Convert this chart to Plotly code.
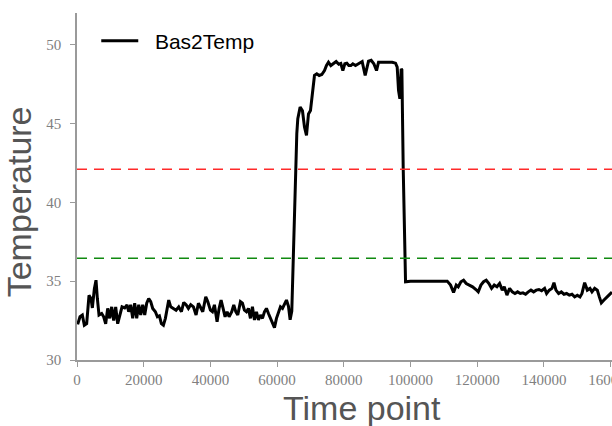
import plotly.graph_objects as go

# ---- data ----
time_points = [
    200, 900, 1600, 2200, 2900, 3600, 4200, 4600, 5200, 5700, 6100, 6600, 7400, 8000,
    8600, 9200, 9800, 10400, 11000, 11600, 12200, 12900, 13500, 14300, 15000, 15500,
    16100, 16700, 17300, 17900, 18500, 19100, 19700, 20300, 20900, 21500, 22100, 22700,
    23500, 24100, 24700, 25300, 25900, 26500, 27100, 27500, 28100, 28900, 29700, 30500,
    31300, 32000, 32700, 33400, 34100, 34900, 35700, 36400, 37100, 37700, 38600, 39200,
    40000, 40600, 41200, 42000, 42600, 43200, 43800, 44400, 45000, 45600, 46400, 47000,
    47600, 48200, 49000, 49600, 50200, 50800, 51400, 52000, 52600, 53200, 53800, 54400,
    55000, 55600, 56200, 56800, 57400, 58000, 58600, 59200, 59800, 60400, 61000, 61600,
    62200, 62800, 63400, 63900, 64400, 64900, 65400, 65900, 66200, 66900, 67600, 68200,
    68800, 69400, 70000, 70600, 71200, 71900, 72600, 73400, 74200, 74800, 75400, 76100,
    76900, 77700, 78500, 79100, 79700, 80300, 80900, 81500, 82100, 82700, 83500, 84300,
    84900, 85500, 86400, 86900, 87400, 88200, 89000, 89800, 90400, 91500, 92500, 93500,
    94500, 95500, 96000, 96400, 96800, 97200, 97400, 97800, 98200, 98500, 100000, 105000,
    111000, 112000, 112900, 113700, 114300, 115100, 115900, 116700, 117600, 118600,
    119600, 120300, 121100, 121900, 122700, 123500, 124300, 125100, 125900, 126700,
    127500, 128100, 128900, 129700, 130500, 131300, 132100, 132900, 133700, 134500,
    135300, 136100, 136900, 137700, 138500, 139300, 140200, 140800, 141600, 142400,
    143000, 143600, 144400, 145200, 146000, 146800, 147600, 148400, 149200, 150000,
    150800, 151400, 152200, 153000, 153800, 154400, 155200, 156000, 156600, 157200,
    158000, 158800, 159400, 160400,
]
bas2_temp = [
    32.26, 32.74, 32.85, 32.20, 32.30, 34.10, 33.90, 33.30, 34.50, 35.06, 33.90, 32.85, 32.95, 32.74,
    32.30, 33.27, 32.64, 33.37, 32.50, 33.37, 32.30, 32.85, 33.37, 33.30, 33.50, 33.06,
    33.50, 32.64, 33.60, 32.64, 33.50, 32.85, 33.50, 32.85, 33.60, 33.90, 33.70, 33.27,
    33.06, 32.74, 32.80, 32.30, 32.20, 32.64, 33.50, 33.80, 33.37, 33.27, 33.16, 33.37,
    33.06, 33.65, 33.50, 33.27, 33.50, 33.37, 32.85, 33.60, 33.27, 33.06, 34.00, 33.70,
    33.16, 33.06, 33.50, 32.43, 33.27, 33.80, 33.27, 32.74, 33.06, 32.74, 33.06, 33.50,
    33.06, 32.85, 33.70, 33.60, 33.16, 33.06, 33.27, 32.64, 33.37, 32.54, 33.06, 32.54,
    32.85, 32.64, 33.06, 33.27, 32.95, 32.64, 32.43, 32.05, 32.64, 33.06, 33.37, 33.27,
    33.50, 33.80, 33.40, 32.55, 33.10, 36.96, 41.18, 44.35, 45.30, 46.03, 45.80, 44.77,
    44.24, 45.60, 45.82, 47.09, 48.04, 48.14, 48.04, 48.10, 48.35, 48.67, 48.88, 48.67,
    48.82, 48.92, 48.75, 48.80, 48.35, 48.78, 48.82, 48.67, 48.67, 48.78, 48.67, 48.78,
    48.88, 48.92, 48.04, 48.57, 48.94, 49.00, 48.78, 48.35, 48.88, 48.88, 48.88, 48.92,
    48.88, 48.82, 48.57, 47.09, 46.56, 48.46, 48.40, 42.20, 38.86, 34.96, 35.00, 35.00,
    35.00, 34.75, 34.28, 34.75, 34.64, 34.96, 35.06, 34.85, 34.75, 34.64,
    34.47, 34.32, 34.75, 34.96, 35.06, 34.85, 34.54, 34.75, 34.64, 34.85,
    34.43, 34.64, 34.11, 34.54, 34.32, 34.22, 34.32, 34.22, 34.26, 34.17,
    34.32, 34.43, 34.32, 34.43, 34.47, 34.39, 34.54, 34.22, 34.43, 34.54,
    34.90, 34.43, 34.22, 34.32, 34.17, 34.22, 34.11, 34.17, 34.00, 34.11,
    34.00, 34.22, 34.90, 34.43, 34.54, 34.32, 34.54, 34.43, 34.00, 33.62,
    33.80, 34.00, 34.10, 34.30,
]
series_name = "Bas2Temp"
upper_threshold = 42.1
lower_threshold = 36.45
x_ticks = [0, 20000, 40000, 60000, 80000, 100000, 120000, 140000, 160000]
y_ticks = [30, 35, 40, 45, 50]
x_range = [0, 160400]
y_range = [30, 52]

axis_gray = "#9a9a9a"
label_gray = "#808080"
title_gray = "#555555"

fig = go.Figure()
fig.add_trace(go.Scatter(
    x=time_points, y=bas2_temp, mode="lines", name="\u00a0\u00a0" + series_name,
    line=dict(color="black", width=3),
))

fig.add_shape(type="line", xref="paper", x0=0, x1=1, yref="y",
              y0=upper_threshold, y1=upper_threshold,
              line=dict(color="#ff2a2a", width=1.5, dash="10px,7px"))
fig.add_shape(type="line", xref="paper", x0=0, x1=1, yref="y",
              y0=lower_threshold, y1=lower_threshold,
              line=dict(color="#108a10", width=1.5, dash="10px,7px"))

tickfont = dict(family="Liberation Serif", size=15, color=label_gray)
fig.update_xaxes(
    range=x_range, tickvals=x_ticks, ticktext=[str(v) for v in x_ticks],
    showgrid=False, zeroline=False, showline=True, linecolor=axis_gray, linewidth=1.5,
    ticks="outside", ticklen=5, tickwidth=1, tickcolor=axis_gray,
    tickfont=tickfont, ticklabeloverflow="allow", ticklabelstandoff=0,
    automargin=False,
)
fig.update_yaxes(
    range=y_range, tickvals=y_ticks, ticktext=[str(v) for v in y_ticks],
    showgrid=False, zeroline=False, showline=True, linecolor=axis_gray, linewidth=1.5,
    ticks="outside", ticklen=5, tickwidth=1, tickcolor=axis_gray,
    tickfont=tickfont, ticklabelstandoff=6, automargin=False,
)

fig.add_annotation(text="Time point", xref="paper", yref="paper",
                   x=0.533, y=-0.138, xanchor="center", yanchor="middle",
                   showarrow=False,
                   font=dict(family="Liberation Sans", size=34, color=title_gray))
fig.add_annotation(text="Temperature", xref="paper", yref="paper",
                   x=-0.108, y=0.455, xanchor="center", yanchor="middle",
                   textangle=-90, showarrow=False,
                   font=dict(family="Liberation Sans", size=34, color=title_gray))

fig.update_layout(
    width=612, height=426,
    margin=dict(l=77, r=0, t=13, b=66, autoexpand=False),
    paper_bgcolor="white", plot_bgcolor="white",
    showlegend=True,
    legend=dict(x=0.036, y=0.978, xanchor="left", yanchor="top",
                bgcolor="rgba(0,0,0,0)", itemwidth=37,
                font=dict(family="Liberation Sans", size=21, color="black")),
)

fig.write_html("out.html")
